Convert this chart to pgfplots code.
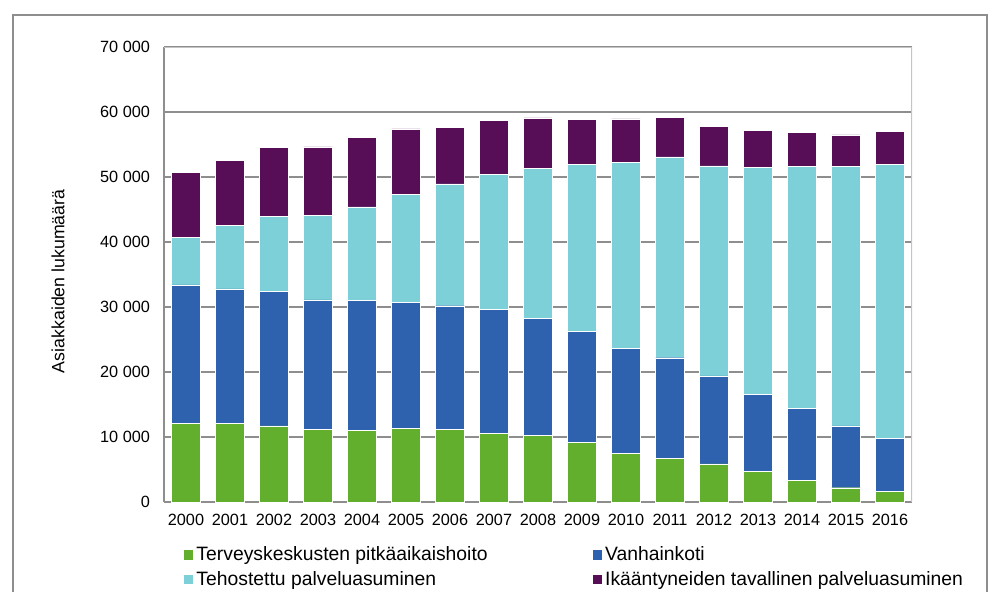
\documentclass[border=0pt]{standalone}
\usepackage{pgfplots}
\pgfplotsset{compat=1.18}
\usepackage{fontspec}
\setmainfont{Liberation Sans}

\definecolor{cGreen}{HTML}{62AF2D}
\definecolor{cBlue}{HTML}{2F62AE}
\definecolor{cTeal}{HTML}{7DD0D7}
\definecolor{cPurple}{HTML}{570E57}
\definecolor{gridgray}{HTML}{8E8E8E}
\definecolor{boxgray}{HTML}{C4C4C4}

% vuosi, terveyskeskus, vanhainkoti, tehostettu, tavallinen
\pgfplotstableread{
x  tk     vk     teh    tav
0  12100  21300  7350   10000
1  12100  20700  9800   10000
2  11700  20700  11500  10650
3  11200  19900  13000  10550
4  11000  20000  14400  10700
5  11300  19400  16600  10100
6  11200  19000  18750  8650
7  10600  19000  20800  8350
8  10300  18000  23000  7800
9  9200   17100  25700  6900
10 7500   16100  28700  6650
11 6700   15500  30900  6100
12 5850   13550  32300  6100
13 4700   11900  34900  5700
14 3300   11100  37200  5250
15 2200   9500   39900  4900
16 1650   8150   42200  5000
}\datatable

\begin{document}
\begin{tikzpicture}
\path (0,0) rectangle (741.75pt,444pt);
\draw[gridgray,line width=1pt] (9.75pt,0) -- (9.75pt,432.75pt) -- (740.25pt,432.75pt) -- (740.25pt,0);
\begin{axis}[
  at={(123pt,67.5pt)}, anchor=south west,
  scale only axis, width=561pt, height=341.25pt,
  ybar stacked, bar width=21.5pt,
  xmin=-0.5, xmax=16.5, ymin=0, ymax=70000,
  xtick={0,...,16},
  xticklabels={2000,2001,2002,2003,2004,2005,2006,2007,2008,2009,2010,2011,2012,2013,2014,2015,2016},
  ytick={0,10000,20000,30000,40000,50000,60000,70000},
  yticklabels={0,10 000,20 000,30 000,40 000,50 000,60 000,70 000},
  scaled y ticks=false,
  major tick length=0pt,
  axis lines*=left,
  axis line style={-, gridgray, line width=1.3pt},
  ymajorgrids, grid style={gridgray, line width=0.9pt},
  xticklabel style={font=\fontsize{12.2}{14}\selectfont, yshift=-5.5pt},
  yticklabel style={font=\fontsize{12.2}{14}\selectfont, xshift=-7pt},
  ylabel={Asiakkaiden lukumäärä},
  ylabel style={font=\fontsize{13.3}{15}\selectfont, at={(axis description cs:-0.1417,0.485)}, anchor=center},
  legend columns=2,
  legend cell align=left,
  legend image code/.code={\fill[#1] (0pt,-3.9pt) rectangle (7.8pt,3.9pt);},
  legend style={draw=none, fill=none, inner sep=0pt, outer sep=0pt,
    at={(0.0254,-0.092)}, anchor=north west,
    font=\fontsize{14.5}{16}\selectfont, row sep=2.5pt,
    /tikz/every even column/.append style={column sep=76pt}},
]
\addplot[fill=cGreen, draw=white, line width=0.3pt] table[x=x,y=tk] {\datatable};
\addplot[fill=cBlue, draw=white, line width=0.3pt] table[x=x,y=vk] {\datatable};
\addplot[fill=cTeal, draw=white, line width=0.3pt] table[x=x,y=teh] {\datatable};
\addplot[fill=cPurple, draw=white, line width=0.3pt] table[x=x,y=tav] {\datatable};
\legend{Terveyskeskusten pitkäaikaishoito, Vanhainkoti, Tehostettu palveluasuminen, Ikääntyneiden tavallinen palveluasuminen}
\draw[boxgray, line width=1.3pt] (rel axis cs:0,1) -- (rel axis cs:1,1) -- (rel axis cs:1,0);
\end{axis}
\end{tikzpicture}
\end{document}
